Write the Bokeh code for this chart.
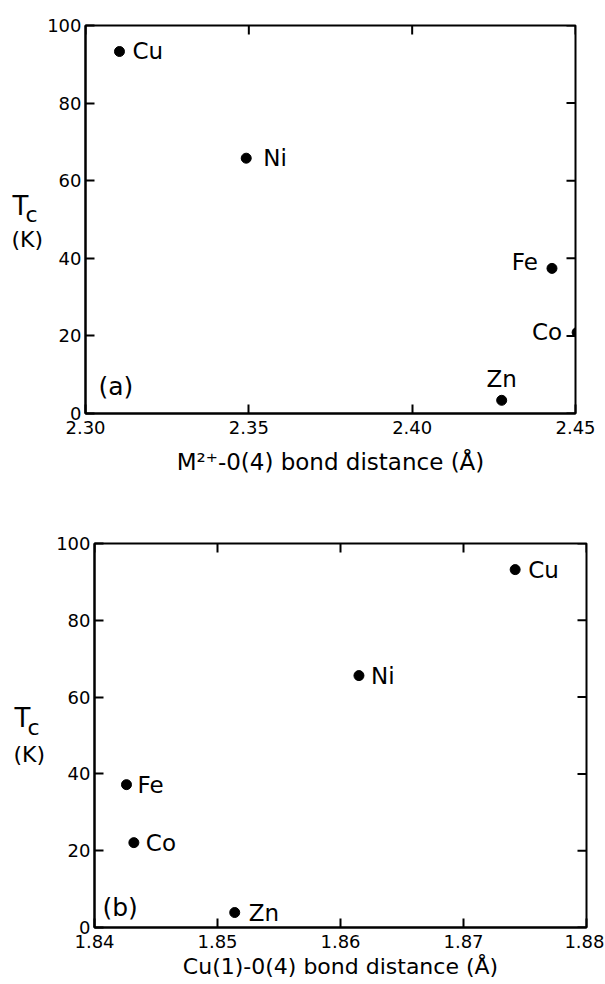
import math
from bokeh.plotting import figure
from bokeh.layouts import column, row
from bokeh.models import (ColumnDataSource, FixedTicker, Label,
                          PrintfTickFormatter, Range1d)
from bokeh.core.properties import value
from bokeh.embed import file_html
from bokeh.resources import INLINE

# ---------------- data ----------------
elements = ["Cu", "Ni", "Fe", "Co", "Zn"]

# panel (a): M2+-O(4) bond distance vs Tc
dist_a = [2.3104, 2.3492, 2.4428, 2.4505, 2.4274]
tc_a = [93.3, 65.8, 37.4, 20.9, 3.4]

# panel (b): Cu(1)-O(4) bond distance vs Tc
dist_b = [1.8742, 1.8615, 1.8426, 1.8432, 1.8514]
tc_b = [93.2, 65.6, 37.2, 22.1, 3.9]

x_ticks_a = [2.30, 2.35, 2.40, 2.45]
x_ticks_b = [1.84, 1.85, 1.86, 1.87, 1.88]
y_ticks = [0, 20, 40, 60, 80, 100]

xlabel_a = "M\u00b2\u207a-0(4) bond distance (\u00c5)"
xlabel_b = "Cu(1)-0(4) bond distance (\u00c5)"

# label placement (screen pixels) for the element names
dx_a = [13, 17, -14, -15, 0]
dy_a = [0, 0, -6, 0, -21]
align_a = ["left", "left", "right", "right", "center"]

dx_b = [13, 12, 11, 12, 14]
dy_b = [0, 0, 0, 0, 0]
align_b = ["left"] * 5

FONT = "DejaVu Sans"


def label_fig(w, h, bt, bb, tpos):
    """Narrow figure holding the horizontal 'Tc (K)' axis title."""
    f = figure(width=w, height=h, min_border_left=0, min_border_right=0,
               min_border_top=bt, min_border_bottom=bb,
               x_range=Range1d(0, w), y_range=Range1d(0, 100),
               x_axis_location=None, y_axis_location=None,
               output_backend="svg", toolbar_location=None,
               background_fill_color="white", border_fill_color="white")
    f.xgrid.visible = False
    f.ygrid.visible = False
    f.outline_line_color = None
    (x_t, y_t, x_c, y_c, x_k, y_k) = tpos
    f.text(x=[x_t], y=[y_t], text=["T"], text_font=value(FONT),
           text_font_size="26px", text_baseline="alphabetic", text_color="black")
    f.text(x=[x_c], y=[y_c], text=["c"], text_font=value(FONT),
           text_font_size="22px", text_baseline="alphabetic", text_color="black")
    f.text(x=[x_k], y=[y_k], text=["(K)"], text_font=value(FONT),
           text_font_size="22px", text_baseline="alphabetic", text_color="black")
    return f


def make_panel(xs, ys, xr, xticks, dx, dy, al, w, h, b_l, b_r, b_t, b_b,
               panel_txt, panel_pos, xlabel, xlabel_size, xlabel_standoff):
    p = figure(width=w, height=h,
               min_border_left=b_l, min_border_right=b_r,
               min_border_top=b_t, min_border_bottom=b_b,
               x_range=Range1d(*xr), y_range=Range1d(0, 100),
               output_backend="svg", toolbar_location=None,
               background_fill_color="white", border_fill_color="white")
    p.xgrid.visible = False
    p.ygrid.visible = False
    p.outline_line_color = "black"
    p.outline_line_width = 2

    for ax in (p.xaxis[0], p.yaxis[0]):
        ax.axis_line_width = 2
        ax.major_tick_in = 9
        ax.major_tick_out = 0
        ax.major_tick_line_width = 2
        ax.minor_tick_line_color = None
        ax.major_label_text_font = FONT
        ax.major_label_text_font_size = "18px"
        ax.major_label_text_color = "black"
    xa = p.xaxis[0]
    xa.ticker = FixedTicker(ticks=xticks)
    xa.formatter = PrintfTickFormatter(format="%.2f")
    xa.major_label_standoff = 7
    xa.axis_label = xlabel
    xa.axis_label_text_font = FONT
    xa.axis_label_text_font_size = xlabel_size
    xa.axis_label_text_font_style = "normal"
    xa.axis_label_text_color = "black"
    xa.axis_label_standoff = xlabel_standoff
    ya = p.yaxis[0]
    ya.ticker = FixedTicker(ticks=y_ticks)
    ya.major_label_standoff = 4

    # inward ticks on the top and right edges of the box (outer half is clipped)
    p.scatter(x=xticks, y=[100] * len(xticks), marker="dash", size=18,
              angle=math.pi / 2, line_color="black", line_width=2)
    p.scatter(x=[xr[1]] * len(y_ticks), y=y_ticks, marker="dash", size=18,
              line_color="black", line_width=2)

    src = ColumnDataSource(dict(x=xs, y=ys, name=elements, dx=dx, dy=dy,
                                align=al))
    p.scatter("x", "y", source=src, size=10, color="black")
    p.text(x="x", y="y", text="name", x_offset="dx", y_offset="dy",
           text_align="align", text_baseline="middle", source=src,
           text_font=value(FONT), text_font_size="23px", text_color="black")

    p.add_layout(Label(x=xr[0], y=panel_pos[1], x_offset=panel_pos[0],
                       text=panel_txt, text_font=FONT, text_font_size="25px",
                       text_color="black",
                       text_baseline="middle", text_align="left"))
    return p


# top panel: frame 83..575 x 25..413
l1 = label_fig(44, 490, 25, 77, (12, 53.6, 25, 51.3, 11, 44.8))
p1 = make_panel(dist_a, tc_a, (2.30, 2.45), x_ticks_a, dx_a, dy_a, align_a,
                556, 490, 39, 25, 25, 77, "(a)", (13, 7.0), xlabel_a, "23px", 12)
# bottom panel: frame 92..586 x 543..927
l2 = label_fig(53, 494, 53, 57, (14, 54.6, 27, 52.2, 13, 45.0))
p2 = make_panel(dist_b, tc_b, (1.84, 1.88), x_ticks_b, dx_b, dy_b, align_b,
                551, 494, 39, 18, 53, 57, "(b)", (8, 5.2), xlabel_b, "22px", 3)

layout = column(row(l1, p1, spacing=0), row(l2, p2, spacing=0), spacing=0)
open("out.html", "w").write(file_html(layout, INLINE))
